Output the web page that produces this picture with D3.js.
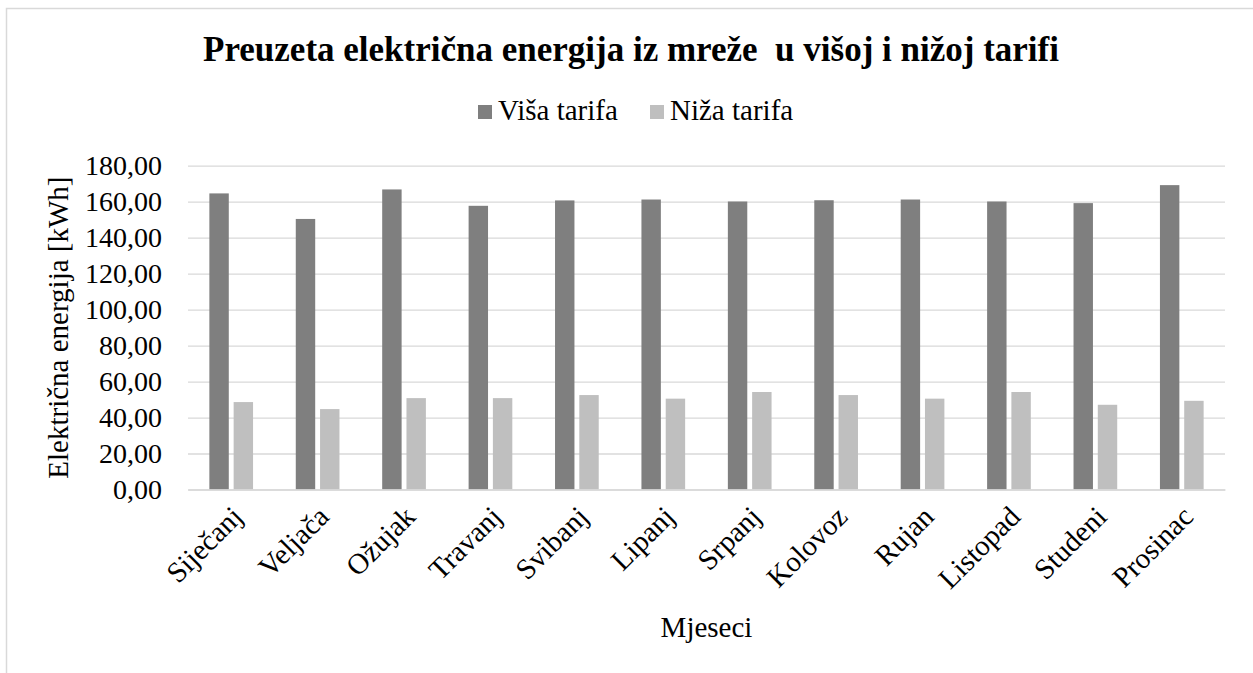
<!DOCTYPE html>
<html>
<head>
<meta charset="utf-8">
<script src="https://cdn.jsdelivr.net/npm/d3@7"></script>
<style>
  body { margin: 0; background: #fff; }
</style>
</head>
<body>
<div id="chart"></div>
<script>
// data
var months = ["Siječanj", "Veljača", "Ožujak", "Travanj", "Svibanj", "Lipanj",
              "Srpanj", "Kolovoz", "Rujan", "Listopad", "Studeni", "Prosinac"];
var series = ["Viša tarifa", "Niža tarifa"];
var visaTarifa = [164.6, 150.4, 166.8, 157.7, 160.7, 161.2, 160.1, 160.8, 161.2, 160.1, 159.2, 169.2];
var nizaTarifa = [48.6, 44.7, 50.8, 50.8, 52.5, 50.5, 54.2, 52.5, 50.5, 54.2, 47.1, 49.3];
var yTicks = [0, 20, 40, 60, 80, 100, 120, 140, 160, 180];
var colors = ["#7f7f7f", "#bfbfbf"];

var FONT = "'Liberation Serif', 'Times New Roman', serif";

var W = 1253, H = 673;
var margin = {top: 165.7, right: 28, bottom: 183.5, left: 188};
var width = W - margin.left - margin.right,
    height = H - margin.top - margin.bottom;

var svg = d3.select("#chart")
  .append("svg")
    .attr("width", W)
    .attr("height", H);

// outer chart border (runs off the right and bottom edges)
svg.append("rect")
  .attr("x", 6.5).attr("y", 8.5)
  .attr("width", W + 10).attr("height", H + 10)
  .attr("fill", "none")
  .attr("stroke", "#d9d9d9")
  .attr("stroke-width", 1.5);

var g = svg.append("g")
  .attr("transform", "translate(" + margin.left + "," + margin.top + ")");

var x0 = d3.scaleBand()
  .domain(months)
  .range([0, width]);

var x1 = d3.scaleBand()
  .domain(series)
  .range([0, x0.bandwidth()])
  .paddingInner(0.2)
  .paddingOuter(0.88);

var y = d3.scaleLinear()
  .domain([0, 180])
  .range([height, 0]);

var fmt = function(d) { return d3.format(".2f")(d).replace(".", ","); };

// gridlines + y labels
var yAxisG = g.append("g")
  .call(d3.axisLeft(y).tickValues(yTicks).tickSize(-width).tickPadding(26).tickFormat(fmt));
yAxisG.select(".domain").remove();
yAxisG.selectAll(".tick line").attr("stroke", "#d9d9d9").attr("stroke-width", 1.3);
yAxisG.selectAll(".tick text")
  .style("font-size", "28px")
  .style("font-family", FONT)
  .attr("fill", "#000");

// bars
var rows = months.map(function(m, i) { return {month: m, values: [visaTarifa[i], nizaTarifa[i]]}; });

var groups = g.append("g")
  .selectAll("g")
  .data(rows)
  .enter().append("g")
    .attr("transform", function(d) { return "translate(" + x0(d.month) + ",0)"; });

groups.selectAll("rect")
  .data(function(d) { return d.values.map(function(v, k) { return {key: series[k], value: v, k: k}; }); })
  .enter().append("rect")
    .attr("x", function(d) { return x1(d.key); })
    .attr("y", function(d) { return y(d.value); })
    .attr("width", x1.bandwidth())
    .attr("height", function(d) { return height - y(d.value); })
    .attr("fill", function(d) { return colors[d.k]; });

// x axis (baseline + rotated labels)
var xAxisG = g.append("g")
  .attr("transform", "translate(0," + height + ")")
  .call(d3.axisBottom(x0).tickSize(0).tickPadding(0));
xAxisG.select(".domain").attr("stroke", "#d9d9d9").attr("stroke-width", 1.3);
xAxisG.selectAll(".tick text")
  .style("font-size", "29px")
  .style("font-family", FONT)
  .attr("fill", "#000")
  .attr("text-anchor", "end")
  .attr("dy", null)
  .attr("y", null)
  .attr("transform", "translate(13,29) rotate(-45)");

// axis titles
svg.append("text")
  .attr("x", margin.left + width / 2)
  .attr("y", 637)
  .attr("text-anchor", "middle")
  .style("font-family", FONT)
  .style("font-size", "29px")
  .text("Mjeseci");

svg.append("text")
  .attr("transform", "translate(67.5," + (margin.top + height / 2) + ") rotate(-90)")
  .attr("text-anchor", "middle")
  .style("font-family", FONT)
  .style("font-size", "29px")
  .text("Električna energija [kWh]");

// title
svg.append("text")
  .attr("x", 631)
  .attr("y", 61)
  .attr("text-anchor", "middle")
  .style("font-family", FONT)
  .style("font-size", "35px")
  .style("font-weight", "bold")
  .style("white-space", "pre")
  .text("Preuzeta električna energija iz mreže  u višoj i nižoj tarifi");

// legend
var legend = svg.append("g").attr("transform", "translate(478,105)");
var legX = [0, 172];
series.forEach(function(s, i) {
  legend.append("rect")
    .attr("x", legX[i]).attr("y", 0)
    .attr("width", 14).attr("height", 14)
    .attr("fill", colors[i]);
  legend.append("text")
    .attr("x", legX[i] + 20)
    .attr("y", 15)
    .style("font-family", FONT)
    .style("font-size", "29px")
    .text(s);
});
</script>
</body>
</html>
